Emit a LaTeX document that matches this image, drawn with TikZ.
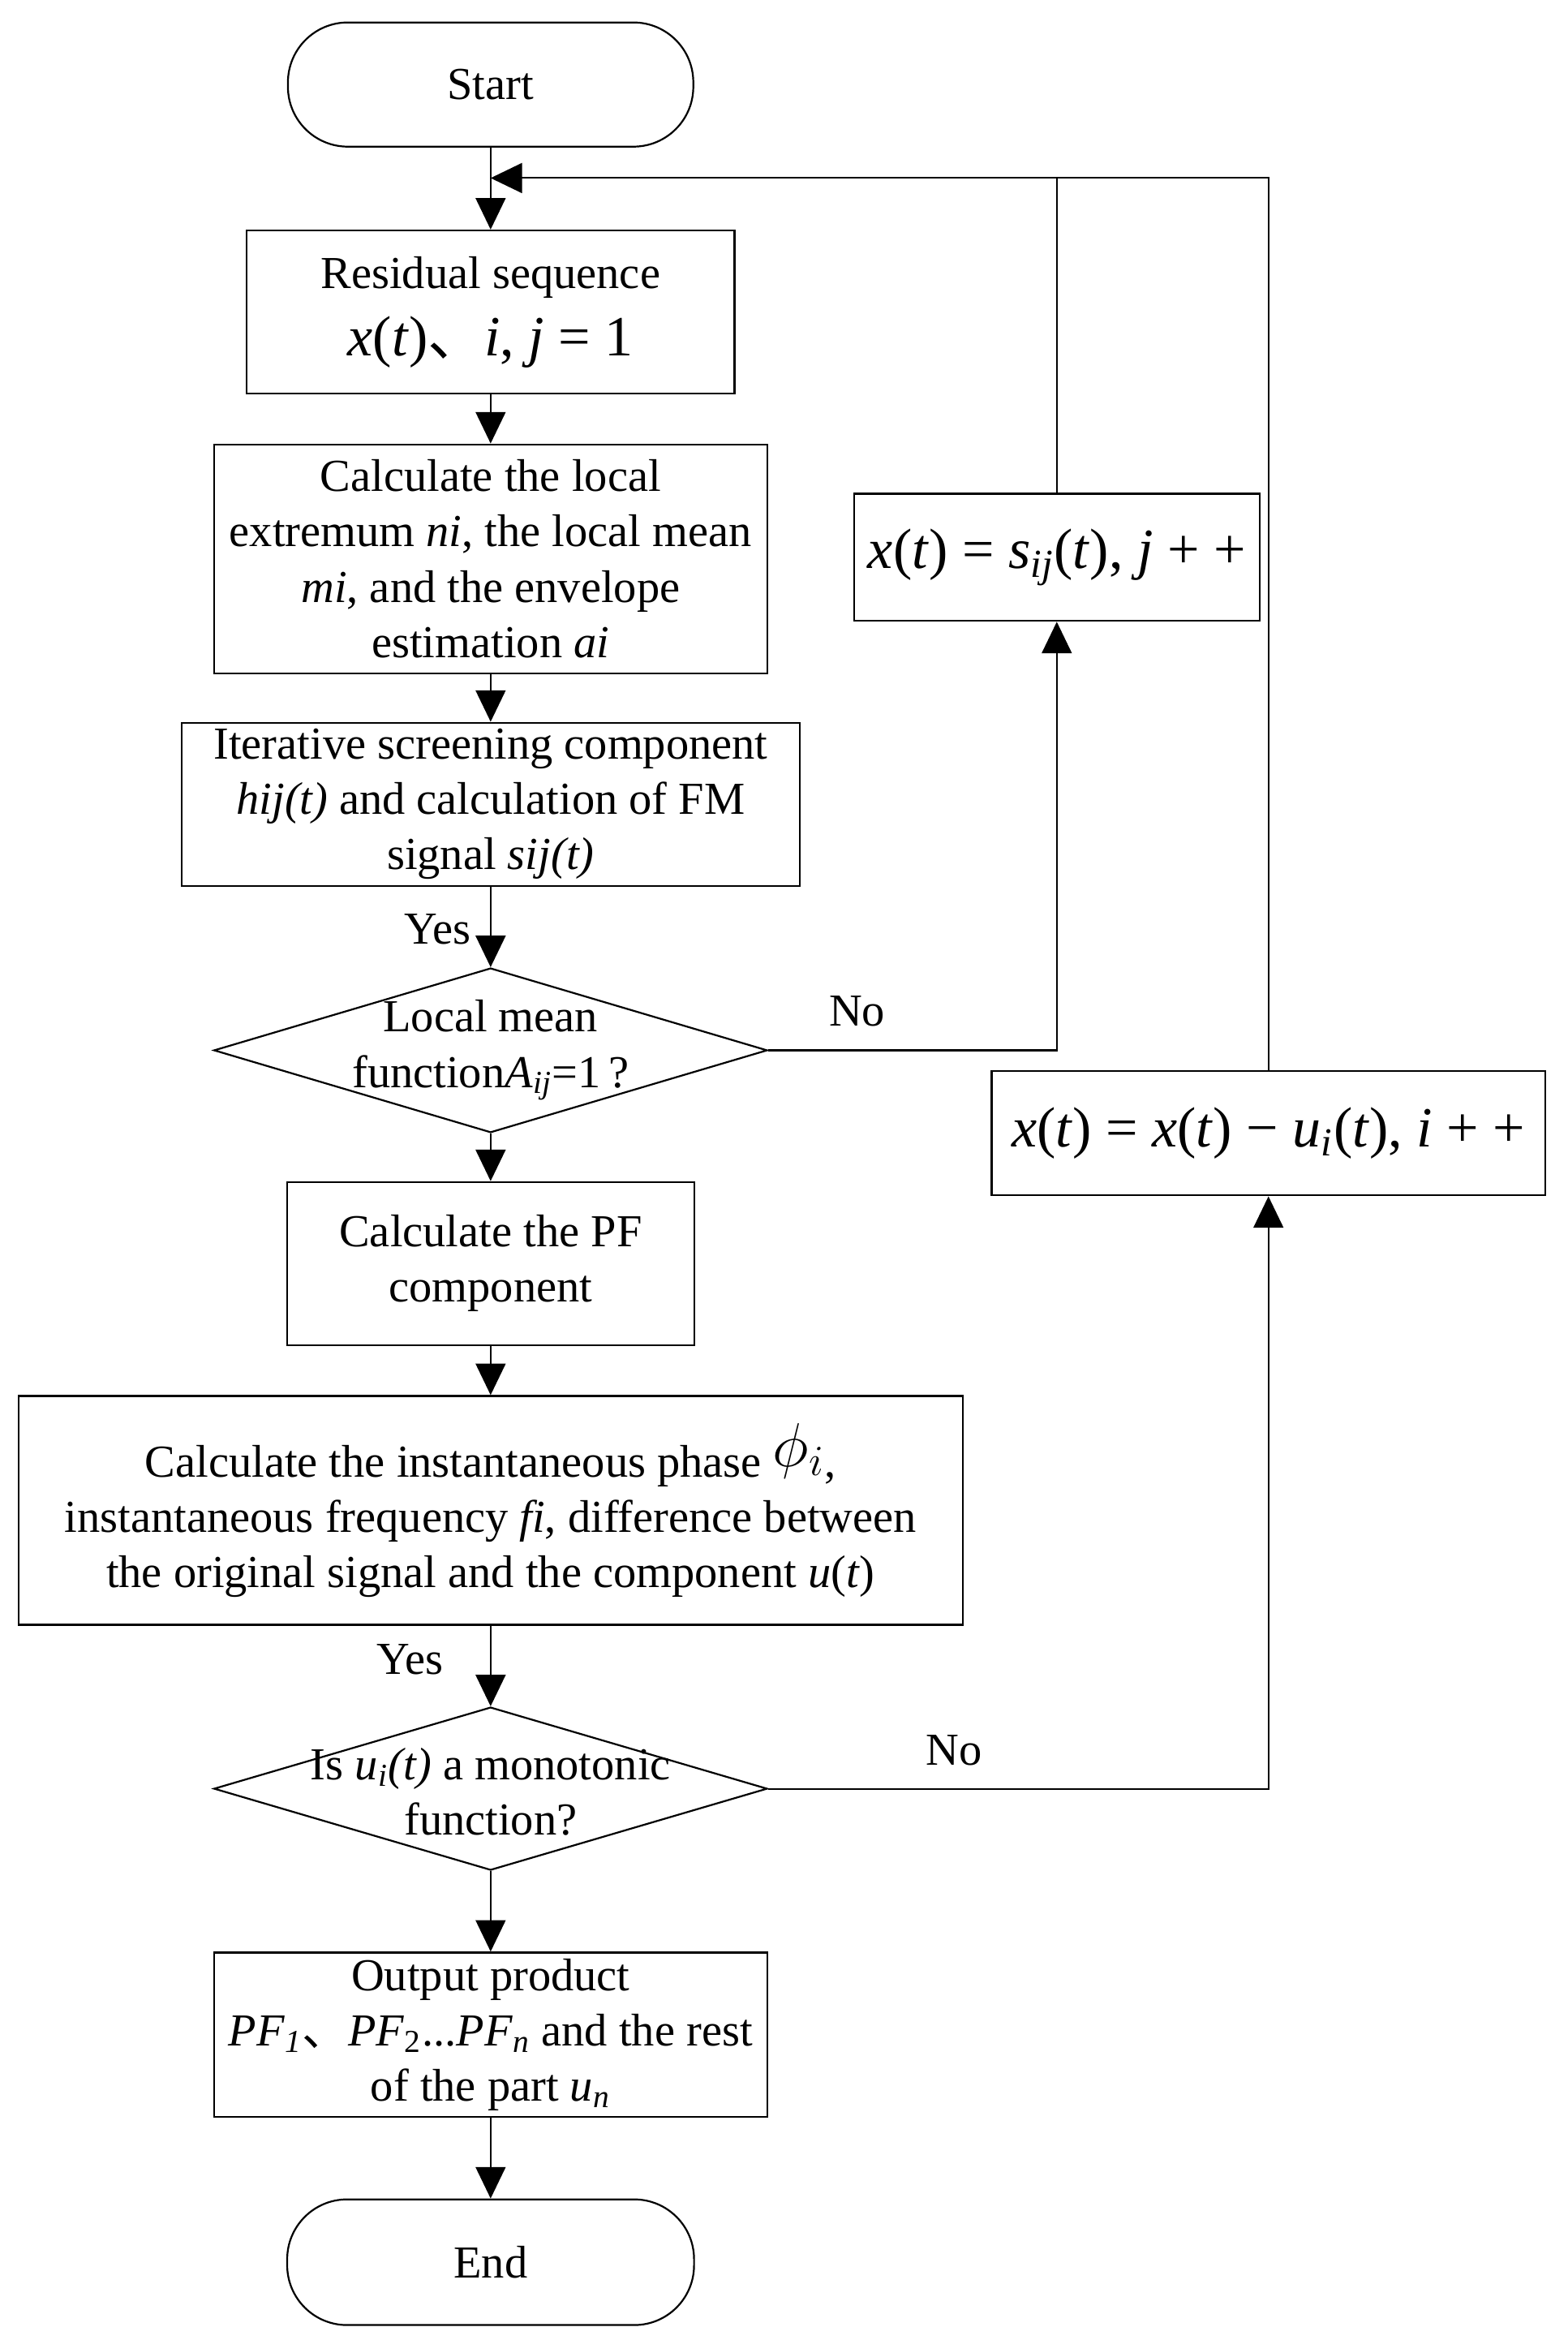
\documentclass[tikz,border=0pt]{standalone}
\usepackage{fontspec}
\setmainfont{Liberation Serif}
\newfontfamily\cjk{Noto Sans CJK SC}
\usetikzlibrary{arrows.meta,shapes.geometric,calc}
\newcommand{\bigf}{\fontsize{19pt}{20pt}\selectfont}
\newcommand{\ti}[1]{\textit{#1}}
\begin{document}
\begin{tikzpicture}[x=0.5pt,y=-0.5pt,
  every node/.style={font=\fontsize{15.3pt}{18.5pt}\selectfont},
  box/.style={draw, line width=0.6pt, align=center, inner sep=0pt},
  term/.style={box, rounded corners=20pt},
  dia/.style={diamond, draw, line width=0.6pt, inner sep=0pt},
  lbl/.style={inner sep=0pt},
  arr/.style={-{Triangle[length=10.5pt,width=10pt]}, line width=0.55pt},
  ln/.style={line width=0.55pt}]
\useasboundingbox (0,0) rectangle (1048,1564);

\node[term, minimum width=135.5pt, minimum height=41.5pt] (start) at (328,56.5) {Start};
\node[box, minimum width=163pt, minimum height=54.5pt] (resid) at (328,208.5)
  {Residual sequence\\[4pt]{\bigf\ti{x}(\ti{t}){\cjk 、}\ti{i}, \ti{j} = 1}};
\node[box, minimum width=185pt, minimum height=76.5pt] (local) at (328,373.5)
  {Calculate the local\\extremum \ti{ni}, the local mean\\\ti{mi}, and the envelope\\estimation \ti{ai}};
\node[box, minimum width=206.5pt, minimum height=54.5pt] (iter) at (328,537.5)
  {Iterative screening component\\\ti{hij(t)} and calculation of FM\\signal \ti{sij(t)}};
\node[dia, minimum width=185pt, minimum height=55pt] (d1) at (328,702) {};
\node[lbl, align=center] (d1t) at (328,702) {Local mean\\function\ti{A}\textsubscript{\ti{ij}}=1\,?};
\node[box, minimum width=136pt, minimum height=54.5pt] (pf) at (328,844.5)
  {Calculate the PF\\component};
\node[box, minimum width=315.5pt, minimum height=76.5pt] (inst) at (328,1009.5)
  {Calculate the instantaneous phase \raisebox{3.5pt}{\fontsize{20pt}{20pt}\selectfont$\phi_{i}$},\\instantaneous frequency \ti{fi}, difference between\\the original signal and the component \ti{u}(\ti{t})};
\node[dia, minimum width=185pt, minimum height=54.5pt] (d2) at (328,1195.5) {};
\node[lbl, align=center] (d2t) at (328,1197.5) {Is \ti{u\textsubscript{i}(t)} a monotonic\\function?};
\node[box, minimum width=185pt, minimum height=55pt] (out) at (328,1360)
  {Output product\\\ti{PF}\textsubscript{\ti{1}}{\cjk 、}\ti{PF}\textsubscript{2}...\ti{PF}\textsubscript{\ti{n}} and the rest\\of the part \ti{u}\textsubscript{\ti{n}}};
\node[term, minimum width=136pt, minimum height=42pt] (end) at (328,1512) {End};

\node[box, minimum width=135.5pt, minimum height=42.5pt] (sij) at (706.5,372.5)
  {\bigf\ti{x}(\ti{t}) = \ti{s}\textsubscript{\ti{ij}}(\ti{t}), \ti{j} + +};
\node[box, minimum width=185pt, minimum height=41.5pt] (ui) at (848,757.5)
  {\bigf\ti{x}(\ti{t}) = \ti{x}(\ti{t}) − \ti{u}\textsubscript{\ti{i}}(\ti{t}), \ti{i} + +};

\coordinate (join) at (328,119);

\draw[arr] (start) -- (resid);
\draw[arr] (resid) -- (local);
\draw[arr] (local) -- (iter);
\draw[arr] (iter) -- (d1);
\draw[arr] (d1) -- (pf);
\draw[arr] (pf) -- (inst);
\draw[arr] (inst) -- (d2);
\draw[arr] (d2) -- (out);
\draw[arr] (out) -- (end);
\draw[arr] (d1.east) -| (sij.south);
\draw[arr] (d2.east) -| (ui.south);
\draw[ln] (sij.north) -- (sij.north |- join);
\draw[arr] (ui.north) |- (join);

\node[lbl, anchor=east] (yes1) at (315,621) {Yes};
\node[lbl, anchor=east] (yes2) at (297,1109) {Yes};
\node[lbl] (no1) at (573,676) {No};
\node[lbl] (no2) at (638,1170) {No};
\end{tikzpicture}
\end{document}
